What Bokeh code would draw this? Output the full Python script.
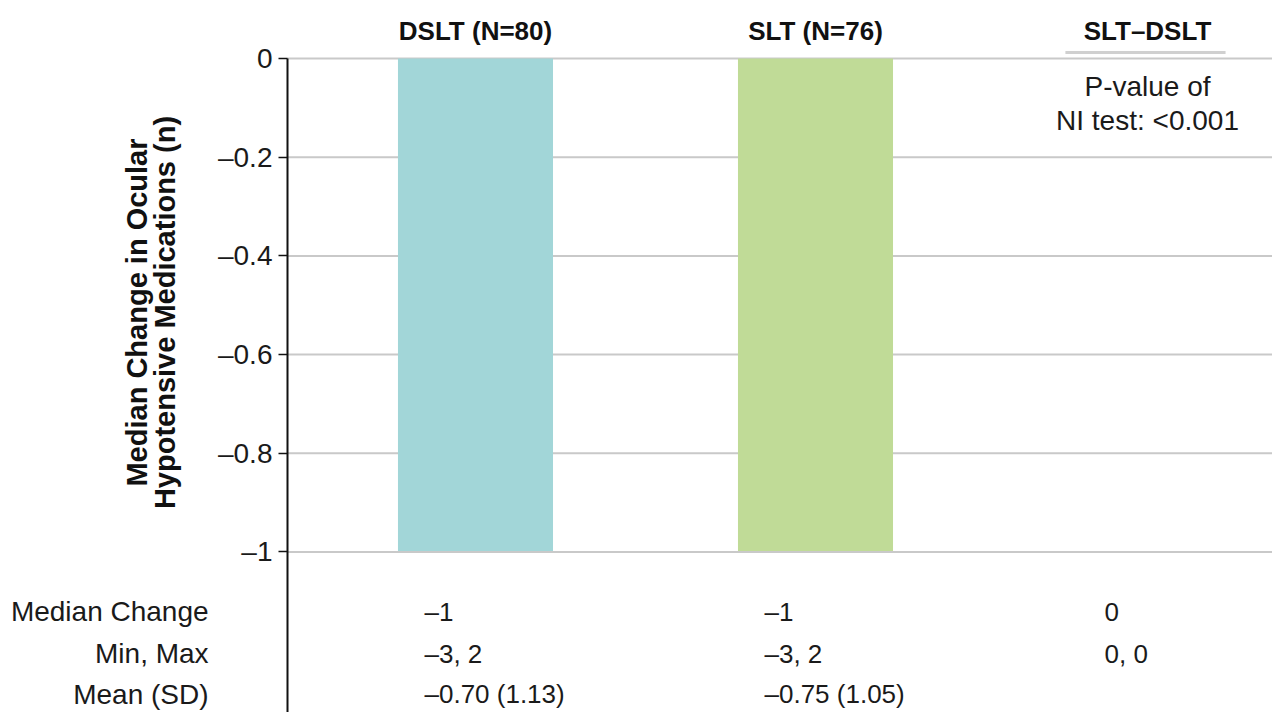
from bokeh.plotting import figure
from bokeh.models import Range1d, LinearAxis, FixedTicker, CustomJSTickFormatter
from bokeh.core.properties import value
from bokeh.embed import file_html
from bokeh.resources import INLINE

# ---- data ----
groups = ["DSLT (N=80)", "SLT (N=76)", "SLT\u2013DSLT"]
bar_groups = ["DSLT (N=80)", "SLT (N=76)"]
bar_medians = [-1, -1]
bar_colors = ["#a2d6d8", "#c0db97"]
y_ticks = [0, -0.2, -0.4, -0.6, -0.8, -1]
tick_labels = ["0", "\u20130.2", "\u20130.4", "\u20130.6", "\u20130.8", "\u20131"]
row_labels = ["Median Change", "Min, Max", "Mean (SD)"]
median_change = ["\u20131", "\u20131", "0"]
min_max = ["\u20133, 2", "\u20133, 2", "0, 0"]
mean_sd = ["\u20130.70 (1.13)", "\u20130.75 (1.05)", ""]
pvalue_text = ["P-value of", "NI test: <0.001"]
y_label = ["Median Change in Ocular", "Hypotensive Medications (n)"]

FONT = value("Liberation Sans")
W, H = 1272, 712

p = figure(width=W, height=H, output_backend="svg", toolbar_location=None,
           x_range=Range1d(-1.397, 2.3441), y_range=Range1d(-1.32523, 0.11753),
           x_axis_location=None, y_axis_location=None, min_border=0,
           background_fill_color="white", border_fill_color="white")
p.outline_line_color = None
p.xgrid.visible = False
p.ygrid.visible = False

AXIS_X = -0.553
RIGHT = 2.3441

# grid lines
p.segment(x0=[AXIS_X] * len(y_ticks), x1=[RIGHT] * len(y_ticks), y0=y_ticks, y1=y_ticks,
          line_color="#c9c9c9", line_width=2)

# bars
p.vbar(x=list(range(len(bar_groups))), top=0, bottom=bar_medians, width=0.456,
       fill_color=bar_colors, line_color=None)
# bottom gridline over bars
p.segment(x0=[AXIS_X], x1=[RIGHT], y0=[min(y_ticks)], y1=[min(y_ticks)],
          line_color="#c9c9c9", line_width=2)

# y axis
yaxis = LinearAxis(fixed_location=AXIS_X, bounds=(-1.4, 0),
                   ticker=FixedTicker(ticks=y_ticks))
yaxis.formatter = CustomJSTickFormatter(code="""
const t = [0, -0.2, -0.4, -0.6, -0.8, -1];
const l = %s;
for (let i = 0; i < t.length; i++) { if (Math.abs(t[i] - tick) < 1e-6) return l[i]; }
return '';
""" % str(tick_labels).replace("'", '"'))
yaxis.axis_line_color = "#111111"
yaxis.axis_line_width = 2
yaxis.major_tick_line_color = "#111111"
yaxis.major_tick_line_width = 1.5
yaxis.major_tick_out = 9
yaxis.major_tick_in = 0
yaxis.minor_tick_line_color = None
yaxis.major_label_standoff = 6
yaxis.major_label_text_font = "Liberation Sans"
yaxis.major_label_text_font_size = "28px"
yaxis.major_label_text_color = "#1a1a1a"
p.add_layout(yaxis, "left")

# headers
hx = [0, 1, 2]
p.text(x=hx, y=[0.0567] * 3, text=groups, text_font=FONT, text_font_style="bold",
       text_font_size=value("26px"), text_align="center", text_baseline="middle",
       text_color="#111111", x_offset=[0, 0, -8])
p.segment(x0=[1.735], x1=[2.206], y0=[0.012], y1=[0.012], line_color="#d0d0d0", line_width=3)

# p-value text
p.text(x=[2, 2], y=[-0.0567, -0.1256], text=pvalue_text, text_font=FONT,
       text_font_size=value("28px"), text_align="center", text_baseline="middle",
       text_color="#1a1a1a", x_offset=-8)

# y label (rotated)
ylab_y = -0.5147
p.text(x=[-0.9941, -0.9118], y=[ylab_y, ylab_y], text=y_label, angle=1.5707963,
       text_font=FONT, text_font_style="bold", text_font_size=value("29px"),
       text_align="center", text_baseline="middle", text_color="#111111")

# bottom table
row_y = [-1.1206, -1.2057, -1.2887]
p.text(x=[-0.785] * 3, y=row_y, text=row_labels, text_font=FONT,
       text_font_size=value("28px"), text_align="right", text_baseline="middle",
       text_color="#1a1a1a")
for ry, vals in zip(row_y, [median_change, min_max, mean_sd]):
    p.text(x=hx, y=[ry] * 3, text=vals, text_font=FONT, text_font_size=value("26px"),
           text_align="left", text_baseline="middle", text_color="#1a1a1a", x_offset=-51)

open("out.html", "w").write(file_html(p, INLINE))
